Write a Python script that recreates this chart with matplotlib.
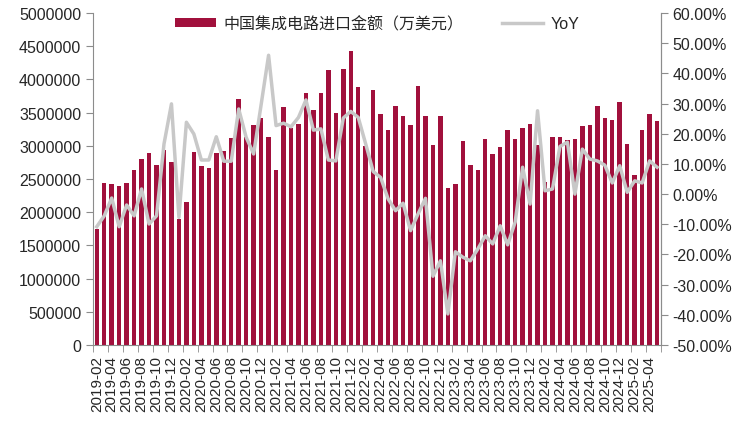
import matplotlib
matplotlib.use('Agg')
import matplotlib.pyplot as plt
import pandas as pd
from matplotlib.ticker import FixedLocator, FuncFormatter

plt.rcParams['font.family'] = ['Liberation Sans', 'Noto Sans CJK SC', 'DejaVu Sans']

months = pd.period_range('2019-02', '2025-05', freq='M').strftime('%Y-%m').tolist()

# 中国集成电路进口金额（万美元）
import_value = [
    1747000, 2440000, 2420000, 2390000, 2440000, 2640000, 2800000, 2890000, 2710000, 2940000,
    2760000, 1900000, 2150000, 2910000, 2700000, 2670000, 2890000, 2920000, 3120000, 3700000,
    3130000, 3310000, 3420000, 3140000, 2640000, 3580000, 3270000, 3330000, 3790000, 3540000,
    3790000, 4140000, 3490000, 4160000, 4430000, 3890000, 3000000, 3840000, 3480000, 3240000,
    3600000, 3450000, 3310000, 3900000, 3450000, 3010000, 3450000, 2360000, 2420000, 3070000,
    2710000, 2640000, 3100000, 2880000, 2980000, 3240000, 3100000, 3270000, 3330000, 3010000,
    2450000, 3130000, 3130000, 3090000, 3100000, 3300000, 3310000, 3600000, 3420000, 3390000,
    3660000, 3030000, 2560000, 3240000, 3480000, 3370000,
]

# YoY (%)
yoy = [
    -10.8, -7.2, -1.3, -10.8, -3.6, -7.2, 1.7, -9.9, -7.2, 16.6,
    29.9, -7.7, 23.8, 19.9, 11.3, 11.3, 19.0, 10.9, 10.9, 28.2,
    18.8, 13.3, 29.6, 46.0, 22.7, 23.5, 22.3, 25.4, 31.2, 21.2,
    21.6, 11.3, 11.0, 25.2, 27.4, 25.4, 16.6, 7.5, 5.5, -1.6,
    -5.5, -3.0, -12.1, -6.6, -1.4, -27.2, -22.1, -39.7, -19.1, -20.9,
    -22.1, -18.2, -13.8, -16.5, -10.5, -16.8, -9.3, 8.9, -3.3, 27.6,
    1.1, 1.7, 15.8, 17.2, 0.0, 14.9, 11.6, 11.0, 9.6, 3.7,
    9.4, 0.6, 4.4, 3.7, 11.0, 8.9,
]

bar_color = '#A1103C'
line_color = '#C8C8C8'
axis_color = '#8C8C8C'
text_color = '#262626'

fig = plt.figure(figsize=(7.4, 4.39), dpi=100)
ax = fig.add_axes([0.1257, 0.2118, 0.7673, 0.7563])
ax2 = ax.twinx()

x = list(range(len(months)))
ax.bar(x, import_value, width=0.6, color=bar_color, label='中国集成电路进口金额（万美元）', zorder=2)
ax2.plot(x, yoy, color=line_color, lw=2.5, label='YoY', zorder=3)

ax.set_xlim(-0.5, len(months) - 0.5)
ax.set_ylim(0, 5000000)
ax.set_yticks(range(0, 5000001, 500000))
ax.yaxis.set_major_formatter(FuncFormatter(lambda v, p: f'{int(v)}'))

ax2.set_ylim(-50, 60)
ax2.set_yticks(range(-50, 61, 10))
ax2.yaxis.set_major_formatter(FuncFormatter(lambda v, p: f'{v:.2f}%'))

# labels at every second month, tick marks between categories
ax.set_xticks(x[::2])
ax.set_xticklabels(months[::2], rotation=90)
ax.xaxis.set_minor_locator(FixedLocator([i - 0.5 for i in range(0, len(months) + 1, 2)]))
ax.tick_params(axis='x', which='major', length=0, pad=7, labelsize=11, colors=text_color)
ax.tick_params(axis='x', which='minor', length=5, color=axis_color)
ax.tick_params(axis='y', length=5, color=axis_color, labelsize=11.5, labelcolor=text_color)
ax2.tick_params(axis='y', length=5, color=axis_color, labelsize=11.5, labelcolor=text_color)

for a in (ax, ax2):
    a.spines['top'].set_visible(False)
    for s in ('left', 'right', 'bottom'):
        a.spines[s].set_color(axis_color)
ax2.spines['left'].set_visible(False)
ax2.spines['bottom'].set_visible(False)

h1, l1 = ax.get_legend_handles_labels()
h2, l2 = ax2.get_legend_handles_labels()
leg = ax2.legend(h1 + h2, l1 + l2, loc='upper center', bbox_to_anchor=(0.5, 1.035), ncol=2,
                 frameon=False, fontsize=11.5, handlelength=2.6, handleheight=0.55,
                 columnspacing=2.4, handletextpad=0.45)
for t in leg.get_texts():
    t.set_color(text_color)

fig.savefig('out.png', dpi=100)
